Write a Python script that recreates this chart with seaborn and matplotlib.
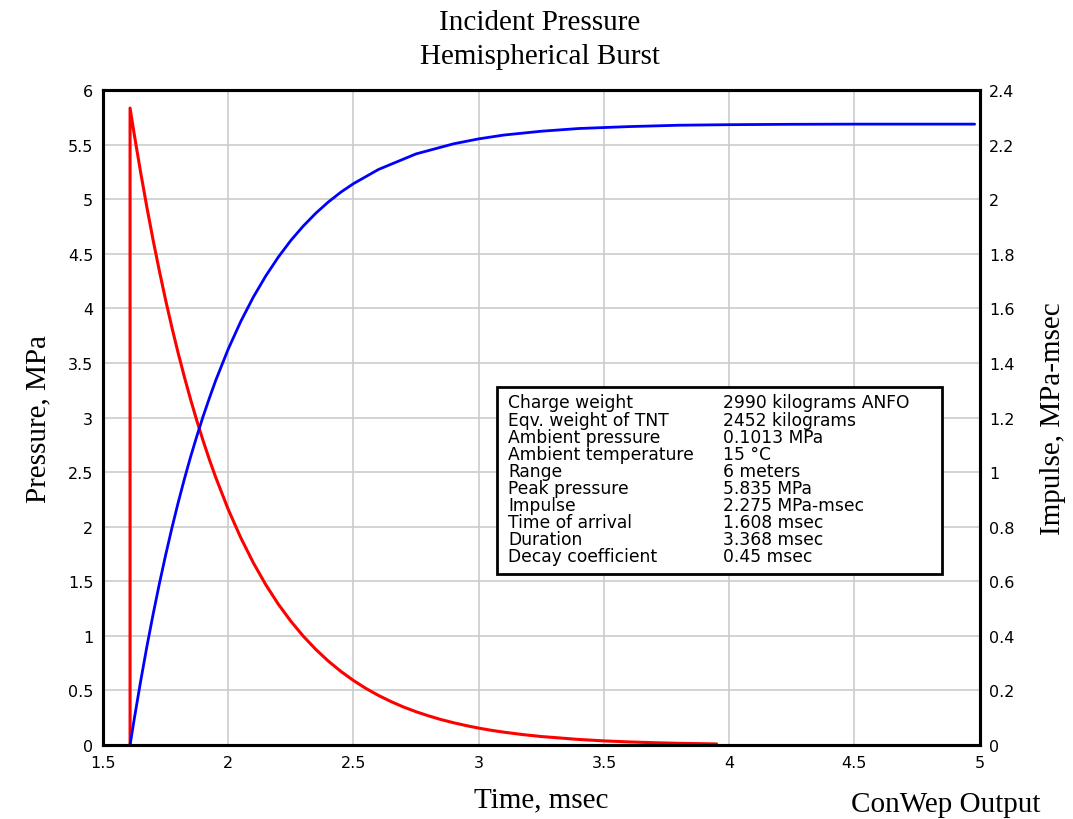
import numpy as np
import pandas as pd
import seaborn as sns
import matplotlib.pyplot as plt
from matplotlib.patches import Rectangle

# pressure history (msec, MPa)
p_time = [1.608, 1.608, 1.625, 1.65, 1.675, 1.70, 1.725, 1.75, 1.775, 1.80, 1.825, 1.85,
          1.875, 1.90, 1.925, 1.95, 2.00, 2.05, 2.10, 2.15, 2.20, 2.25, 2.30, 2.35, 2.40,
          2.45, 2.50, 2.55, 2.60, 2.65, 2.70, 2.75, 2.80, 2.85, 2.90, 2.95, 3.00, 3.05,
          3.10, 3.175, 3.25, 3.40, 3.50, 3.60, 3.70, 3.80, 3.95]
p_value = [0.0, 5.835, 5.59, 5.249, 4.928, 4.626, 4.343, 4.076, 3.826, 3.591, 3.371, 3.163,
           2.968, 2.785, 2.613, 2.452, 2.158, 1.899, 1.670, 1.468, 1.290, 1.134, 0.996, 0.875, 0.768,
           0.674, 0.591, 0.518, 0.454, 0.398, 0.348, 0.305, 0.267, 0.233, 0.204, 0.178, 0.155, 0.135,
           0.118, 0.096, 0.078, 0.051, 0.038, 0.0285, 0.0212, 0.0156, 0.0098]

# impulse history (msec, MPa-msec)
i_time = [1.608, 1.625, 1.65, 1.675, 1.70, 1.725, 1.75, 1.775, 1.80, 1.825, 1.85, 1.875,
          1.90, 1.925, 1.95, 2.00, 2.05, 2.10, 2.15, 2.20, 2.25, 2.30, 2.35, 2.40, 2.45,
          2.50, 2.60, 2.75, 2.90, 3.00, 3.10, 3.25, 3.40, 3.60, 3.80, 4.00, 4.25, 4.50, 4.98]
i_value = [0.0, 0.097, 0.2325, 0.360, 0.479, 0.591, 0.696, 0.795, 0.888, 0.975, 1.057, 1.133,
           1.205, 1.272, 1.336, 1.451, 1.552, 1.641, 1.719, 1.788, 1.849, 1.902, 1.949, 1.990, 2.026,
           2.057, 2.109, 2.166, 2.203, 2.221, 2.235, 2.249, 2.259, 2.266, 2.271, 2.273, 2.2744, 2.275, 2.275]

info_names = ["Charge weight", "Eqv. weight of TNT", "Ambient pressure", "Ambient temperature",
              "Range", "Peak pressure", "Impulse", "Time of arrival", "Duration", "Decay coefficient"]
info_values = ["2990 kilograms ANFO", "2452 kilograms", "0.1013 MPa", "15 °C", "6 meters",
               "5.835 MPa", "2.275 MPa-msec", "1.608 msec", "3.368 msec", "0.45 msec"]

pressure = pd.DataFrame({"t": p_time, "p": p_value})
impulse = pd.DataFrame({"t": i_time, "i": i_value})

sns.set_theme(style="white")
plt.rcParams["font.family"] = ["DejaVu Sans"]
plt.rcParams["text.color"] = "black"
plt.rcParams["axes.labelcolor"] = "black"
plt.rcParams["xtick.color"] = "black"
plt.rcParams["ytick.color"] = "black"
serif = ["Liberation Serif", "DejaVu Serif"]

fig = plt.figure(figsize=(10.73, 8.2), dpi=100)
ax = fig.add_axes([0.096, 0.0902, 0.817, 0.7988])
ax2 = ax.twinx()

sns.lineplot(data=pressure, x="t", y="p", ax=ax, color="#ff0000", linewidth=2.2, sort=False,
             estimator=None, zorder=3)
sns.lineplot(data=impulse, x="t", y="i", ax=ax2, color="#0000ff", linewidth=2, sort=False,
             estimator=None)

ax.set_xlim(1.5, 5)
ax.set_ylim(0, 6)
ax2.set_ylim(0, 2.4)
ax.set_xticks(np.arange(1.5, 5.01, 0.5))
ax.set_yticks(np.arange(0, 6.01, 0.5))
ax2.set_yticks(np.arange(0, 2.41, 0.2))
ax.set_xticklabels(["1.5", "2", "2.5", "3", "3.5", "4", "4.5", "5"])
ax.set_yticklabels(["0", "0.5", "1", "1.5", "2", "2.5", "3", "3.5", "4", "4.5", "5", "5.5", "6"])
ax2.set_yticklabels(["0", "0.2", "0.4", "0.6", "0.8", "1", "1.2", "1.4", "1.6", "1.8", "2", "2.2", "2.4"])

ax.grid(True, color="#cccccc", linewidth=1.2)
ax.set_axisbelow(True)
for a in (ax, ax2):
    a.tick_params(length=0, labelsize=11.5, pad=7, colors="black")
    for s in a.spines.values():
        s.set_color("black")
        s.set_linewidth(2.2)

ax.set_xlabel("Time, msec", fontsize=21, family=serif, labelpad=12, color="black")
ax.set_ylabel("Pressure, MPa", fontsize=21, family=serif, labelpad=12, color="black")
ax2.set_ylabel("Impulse, MPa-msec", fontsize=21, family=serif, labelpad=18, rotation=90, color="black")

fig.text(0.503, 0.972, "Incident Pressure", ha="center", va="center", fontsize=21, family=serif)
fig.text(0.503, 0.93, "Hemispherical Burst", ha="center", va="center", fontsize=21, family=serif)
fig.text(0.881, 0.018, "ConWep Output", ha="center", va="center", fontsize=21, family=serif)

# info box
ax.add_patch(Rectangle((0.449, 0.261), 0.508, 0.286, transform=ax.transAxes, facecolor="white",
                       edgecolor="black", linewidth=2, zorder=5))
y0 = 0.523
dy = 0.0261
for k, (n, v) in enumerate(zip(info_names, info_values)):
    ax.text(0.462, y0 - k * dy, n, transform=ax.transAxes, fontsize=12.3, va="center", zorder=6)
    ax.text(0.707, y0 - k * dy, v, transform=ax.transAxes, fontsize=12.3, va="center", zorder=6)

fig.savefig("out.png", dpi=100)
